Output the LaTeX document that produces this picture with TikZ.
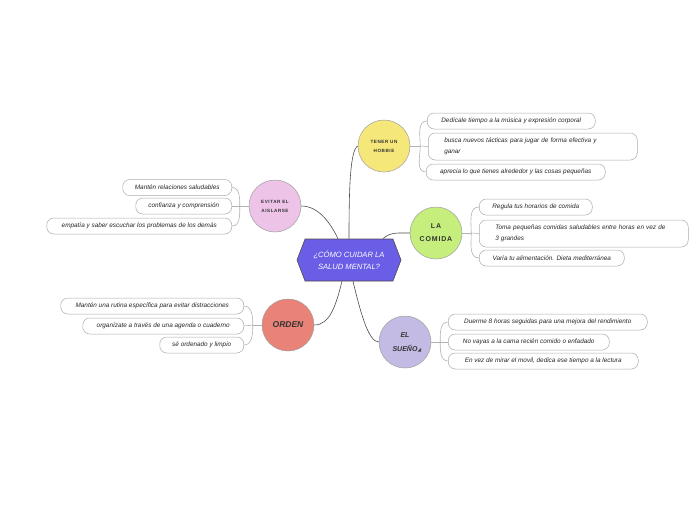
\documentclass[tikz,border=0pt]{standalone}
\usepackage{fontspec}
\setmainfont{Liberation Sans}
\newfontfamily\spaced[LetterSpace=12]{Liberation Sans}
\usetikzlibrary{shapes.symbols}
\definecolor{cpurple}{HTML}{6A5DE6}
\definecolor{cyellow}{HTML}{F6E77A}
\definecolor{cpink}{HTML}{EEC3E8}
\definecolor{cgreen}{HTML}{C5EE7C}
\definecolor{csalmon}{HTML}{E98377}
\definecolor{clav}{HTML}{C3BBE3}
\newcommand{\leaffont}{\fontsize{6.4}{11}\selectfont\itshape}
\begin{document}
\begin{tikzpicture}[x=1pt,y=-1pt,
  topic/.style={circle, draw=gray!75, line width=0.5pt, minimum size=52, inner sep=0, align=center, text=black!80},
  leaf/.style={draw=gray!65, fill=white, rounded corners=7, inner sep=0, minimum height=16, font=\leaffont, text=black!85, line width=0.5pt},
  leaftwo/.style={leaf, minimum height=27, inner xsep=16, align=left},
  link/.style={draw=black!70, line width=0.6pt},
  branch/.style={draw=gray!60, line width=0.6pt},
]
\useasboundingbox (0,0) rectangle (697,520);

% central node
\node[signal, signal to=east and west, signal pointer angle=138, draw=black!70, line width=0.6pt,
  fill=cpurple, minimum width=104, minimum height=42, inner sep=0, text=white, align=center,
  font=\fontsize{7.6}{12}\selectfont\itshape] (c) at (349,260) {¿CÓMO CUIDAR LA\\SALUD MENTAL?};

% topics
\node[topic, fill=cyellow, font=\fontsize{4.6}{9}\selectfont\bfseries\spaced] (hob) at (384,146) {TENER UN\\HOBBIE};
\node[topic, fill=cpink, font=\fontsize{4.6}{9}\selectfont\bfseries\spaced] (evi) at (275,206) {EVITAR EL\\AISLARSE};
\node[topic, fill=cgreen, font=\fontsize{7}{13}\selectfont\bfseries\spaced] (com) at (436,233) {LA\\COMIDA};
\node[topic, fill=csalmon, font=\fontsize{8.5}{12}\selectfont\bfseries\itshape] (ord) at (288,325) {ORDEN};
\node[topic, fill=clav, font=\fontsize{7}{14}\selectfont\bfseries\itshape] (sue) at (405,342) {EL\\SUEÑO};
\fill[black!75] (417.5,351.5) -- (421,348) -- (421,351.5) -- cycle;

% links from center
\draw[link] (c.north) .. controls (349,190) and (350,150) .. (hob.west);
\draw[link] ([xshift=-11]c.north) .. controls (330,222) and (318,206) .. (evi.east);
\draw[link] ([xshift=34]c.north) .. controls (390,232) and (398,233) .. (com.west);
\draw[link] ([xshift=-7]c.south) .. controls (336,305) and (330,325) .. (ord.east);
\draw[link] ([xshift=4]c.south) .. controls (360,310) and (368,342) .. (sue.west);

% hobbie leaves
\node[leaf, minimum width=168, anchor=west] (h1) at (427,121) {Dedícale tiempo a la música y expresión corporal};
\node[leaftwo, text width=177, anchor=west] (h2) at (428,146.5) {busca nuevos tácticas para jugar de forma efectiva y\\ganar};
\node[leaf, minimum width=179, anchor=west] (h3) at (426,172) {aprecia lo que tienes alrededor y las cosas pequeñas};
\draw[branch] (hob.east) -- ++(10,0) coordinate (hj);
\draw[branch] (hj) -- (h2.west);
\draw[branch] (hj) to[out=90,in=180] (h1.west);
\draw[branch] (hj) to[out=-90,in=180] (h3.west);

% comida leaves
\node[leaf, minimum width=113, anchor=west] (m1) at (479,207) {Regula tus horarios de comida};
\node[leaftwo, text width=177, anchor=west] (m2) at (479,233.5) {Toma pequeñas comidas saludables entre horas en vez de\\3 grandes};
\node[leaf, minimum width=145, anchor=west] (m3) at (479,258) {Varía tu alimentación. Dieta mediterránea};
\draw[branch] (com.east) -- ++(9,0) coordinate (mj);
\draw[branch] (mj) -- (m2.west);
\draw[branch] (mj) to[out=90,in=180] (m1.west);
\draw[branch] (mj) to[out=-90,in=180] (m3.west);

% sueno leaves
\node[leaf, minimum width=199, anchor=west] (s1) at (448,322) {Duerme 8 horas seguidas para una mejora del rendimiento};
\node[leaf, minimum width=161, anchor=west] (s2) at (448,342) {No vayas a la cama recién comido o enfadado};
\node[leaf, minimum width=190, anchor=west] (s3) at (448,361) {En vez de mirar el movil, dedica ese tiempo a la lectura};
\draw[branch] (sue.east) -- ++(9,0) coordinate (sj);
\draw[branch] (sj) -- (s2.west);
\draw[branch] (sj) to[out=90,in=180] (s1.west);
\draw[branch] (sj) to[out=-90,in=180] (s3.west);

% evitar leaves
\node[leaf, minimum width=109, anchor=east] (e1) at (232,187.5) {Mantén relaciones saludables};
\node[leaf, minimum width=96, anchor=east] (e2) at (232,206) {confianza y comprensión};
\node[leaf, minimum width=185, anchor=east] (e3) at (232,226) {empatía y saber escuchar los problemas de los demás};
\draw[branch] (evi.west) -- ++(-9,0) coordinate (ej);
\draw[branch] (ej) -- (e2.east);
\draw[branch] (ej) to[out=90,in=0] (e1.east);
\draw[branch] (ej) to[out=-90,in=0] (e3.east);

% orden leaves
\node[leaf, minimum width=183, anchor=east] (o1) at (244,306) {Mantén una rutina específica para evitar distracciones};
\node[leaf, minimum width=161, anchor=east] (o2) at (244,326) {organízate a través de una agenda o cuaderno};
\node[leaf, minimum width=84, anchor=east] (o3) at (244,345) {sé ordenado y limpio};
\draw[branch] (ord.west) -- ++(-9,0) coordinate (oj);
\draw[branch] (oj) -- (o2.east);
\draw[branch] (oj) to[out=90,in=0] (o1.east);
\draw[branch] (oj) to[out=-90,in=0] (o3.east);
\end{tikzpicture}
\end{document}
